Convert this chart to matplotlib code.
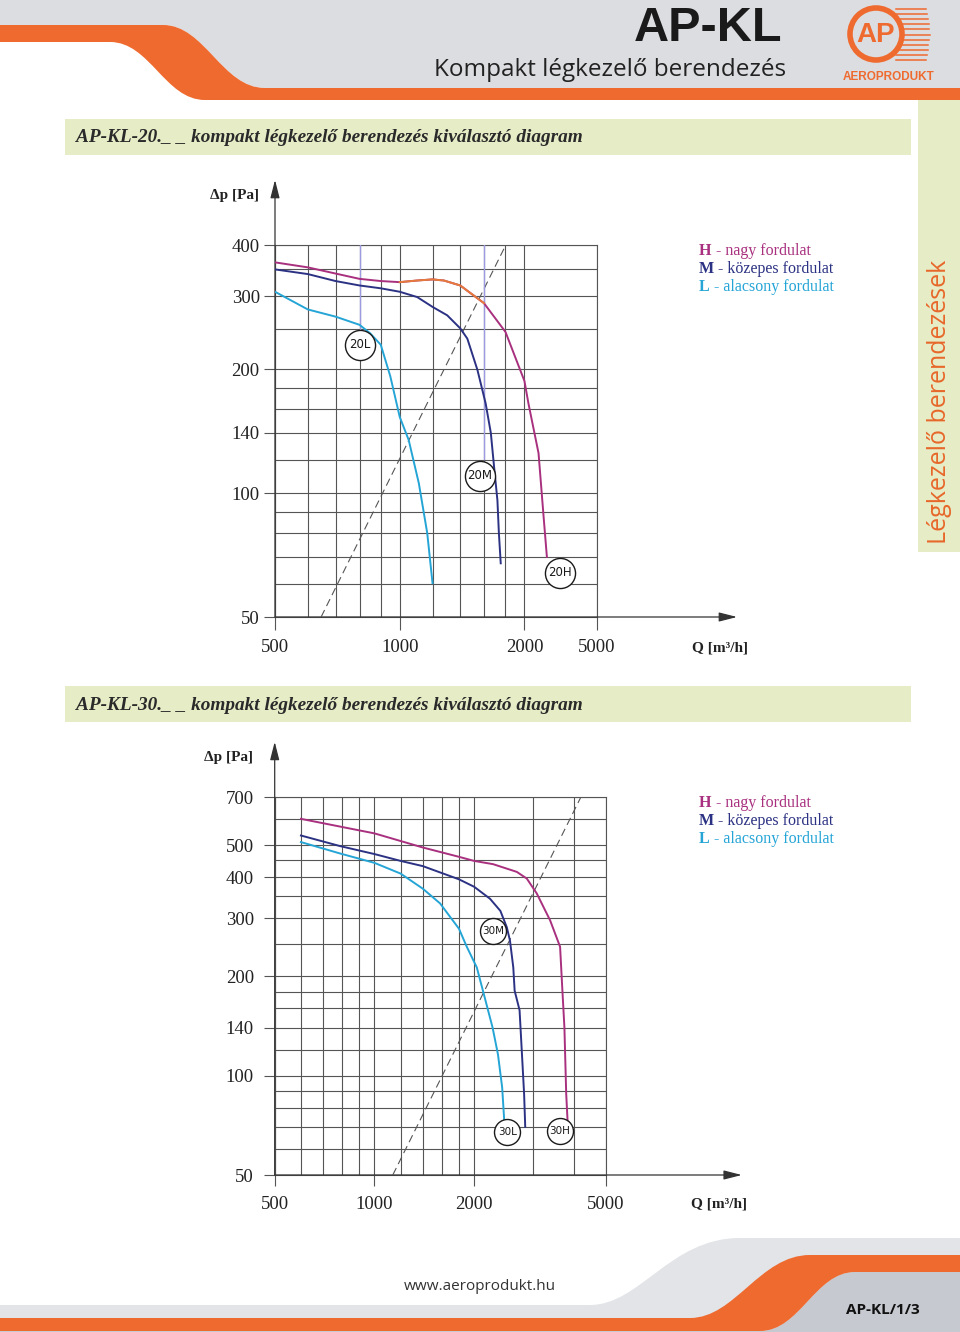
import numpy as np
import matplotlib
matplotlib.use('Agg')
import matplotlib.pyplot as plt
from matplotlib.path import Path
from matplotlib.patches import PathPatch, Circle, Rectangle

ORANGE = '#ef6a2f'
GRID = '#555555'
C_H = '#a8307e'
C_M = '#2c3283'
C_L = '#25a5d6'
C_HM = '#e67a3a'

# ---------------- data: AP-KL-20 ----------------
q20_h = [500, 600, 700, 800, 900, 1000, 1102, 1200, 1278, 1400, 1597, 1800, 2000, 2103, 2389, 2545, 2655]
p20_h = [363, 353, 341, 331, 327, 325, 328, 330, 328, 319, 289, 246, 187, 165, 125, 88, 70]
h20_orange = (5, 11)   # index range of the orange part of the H curve
q20_m = [500, 600, 700, 800, 900, 1000, 1102, 1200, 1302, 1400, 1456, 1540, 1612, 1659, 1689, 1721, 1735, 1753]
p20_m = [349, 340, 327, 319, 314, 308, 299, 283, 270, 251, 237, 199, 165, 140, 116, 96, 80, 67.5]
q20_l = [500, 600, 700, 800, 849, 900, 949, 1000, 1051, 1112, 1165, 1200]
p20_l = [308, 279, 268, 256, 244, 229, 192, 153, 134.5, 105.6, 80, 60.4]
dash20_q = [646, 1803]
dash20_p = [50, 400]
guide20_q = [800, 1600]
guide20_p = [249, 121]
badge20_lab = ['20L', '20M', '20H']
badge20_q = [803, 1559, 3141]
badge20_p = [229, 110, 64]
x20_major = [500, 1000, 2000, 5000]
x20_minor = [600, 700, 800, 900, 1200, 1400, 1600, 1800]
y20_major = [50, 100, 140, 200, 300, 400]
y20_minor = [60, 70, 80, 90, 120, 160, 180, 250, 350]

# ---------------- data: AP-KL-30 ----------------
q30_h = [600, 1000, 1400, 1800, 2000, 2281, 2690, 2884, 3090, 3390, 3634, 3693, 3745, 3792, 3828]
p30_h = [601, 543, 492, 461, 448, 438, 415, 396, 357, 296, 246, 181, 140, 88, 73]
q30_m = [600, 787, 1000, 1200, 1400, 1800, 2000, 2233, 2400, 2509, 2565, 2625, 2650, 2742, 2795, 2830, 2852]
p30_m = [535, 497, 470, 448, 432, 394, 374, 344, 316, 282, 257, 213, 181, 158, 111, 88, 70]
q30_l = [600, 787, 1000, 1200, 1400, 1578, 1800, 1900, 2037, 2132, 2273, 2360, 2430, 2465]
p30_l = [511, 472, 442, 410, 369, 333, 279, 246, 213, 179, 140, 116, 92, 73]
dash30_q = [1136, 4200]
dash30_p = [50, 700]
badge30_lab = ['30M', '30L', '30H']
badge30_q = [2281, 2515, 3634]
badge30_p = [274, 67.6, 68]
x30_major = [500, 1000, 2000, 5000]
x30_minor = [600, 700, 800, 900, 1200, 1400, 1600, 1800, 3000, 4000]
y30_major = [50, 100, 140, 200, 300, 400, 500, 700]
y30_minor = [60, 70, 80, 90, 120, 160, 180, 250, 350, 450, 600]

legend_lines = [('H', ' - nagy fordulat', C_H), ('M', ' - közepes fordulat', C_M), ('L', ' - alacsony fordulat', C_L)]

# piecewise Q scale of the upper diagram (2000..5000 compressed)
K = 0.44
def fwd20(q):
    l = np.log2(np.maximum(np.asarray(q, float), 1e-6) / 500.0)
    return np.where(l <= 2, l, 2 + (l - 2) * K)
def inv20(p):
    p = np.asarray(p, float)
    return 500.0 * 2 ** np.where(p <= 2, p, 2 + (p - 2) / K)

W, H = 960, 1332
fig = plt.figure(figsize=(9.6, 13.32), dpi=100)
page = fig.add_axes([0, 0, 1, 1])
page.set_xlim(0, W)
page.set_ylim(H, 0)
page.axis('off')

def shape(verts, codes, color, z=1):
    page.add_patch(PathPatch(Path(verts, codes), facecolor=color, edgecolor='none', zorder=z))

M_, L_, C4, CL = Path.MOVETO, Path.LINETO, Path.CURVE4, Path.CLOSEPOLY
# header
shape([(0, 0), (960, 0), (960, 88), (265, 88), (222, 88), (205, 25), (163, 25), (0, 25), (0, 0)],
      [M_, L_, L_, L_, C4, C4, C4, L_, CL], '#dcdde0')
shape([(0, 25), (163, 25), (205, 25), (222, 88), (265, 88), (960, 88), (960, 100), (205, 100),
       (165, 100), (150, 42), (110, 42), (0, 42), (0, 25)],
      [M_, L_, C4, C4, C4, L_, L_, L_, C4, C4, C4, L_, CL], ORANGE, 2)
page.text(708, 41, 'AP-KL', fontsize=35, fontweight='bold', family='Liberation Sans',
          ha='center', va='baseline', color='#1a1a1a', zorder=3)
page.text(786, 70, 'Kompakt légkezelő berendezés', fontsize=17.5, family='Open Sans',
          ha='right', va='center', color='#222222', zorder=3)
# logo
for yy in np.linspace(9, 60, 11):
    page.plot([896, 930 - abs(yy - 34) * 0.15], [yy, yy], color=ORANGE, lw=1.1, zorder=3)
page.add_patch(Circle((876, 34), 26, facecolor='#dcdde0', edgecolor=ORANGE, lw=4, zorder=4))
page.text(876, 35, 'AP', fontsize=20, fontweight='bold', color=ORANGE, family='Liberation Sans',
          ha='center', va='center', zorder=5)
page.text(889, 77, 'AEROPRODUKT', fontsize=8.5, fontweight='bold', color=ORANGE,
          family='Liberation Sans', ha='center', va='center', zorder=5)

# side band
page.add_patch(Rectangle((918, 100), 42, 452, facecolor='#e6ecc6', edgecolor='none', zorder=1))
page.text(939, 402, 'Légkezelő berendezések', rotation=90, fontsize=18, family='Open Sans',
          color='#e8672a', ha='center', va='center', zorder=3)

# section headers
for ytop, title in [(119, 'AP-KL-20._ _ kompakt légkezelő berendezés kiválasztó diagram'),
                    (686, 'AP-KL-30._ _ kompakt légkezelő berendezés kiválasztó diagram')]:
    page.add_patch(Rectangle((65, ytop), 846, 36, facecolor='#e6ecc6', edgecolor='none', zorder=1))
    page.text(76, ytop + 19, title, fontsize=13.9, fontweight='bold', fontstyle='italic',
              family='Liberation Serif', color='#2a2a2a', ha='left', va='center', zorder=3)

# footer
shape([(0, 1305), (590, 1305), (640, 1305), (670, 1238), (740, 1238), (960, 1238), (960, 1332),
       (0, 1332), (0, 1305)], [M_, L_, C4, C4, C4, L_, L_, L_, CL], '#e2e4e8')
shape([(960, 1272), (960, 1332), (0, 1332), (0, 1331), (760, 1331), (800, 1331), (815, 1272),
       (855, 1272), (960, 1272)], [M_, L_, L_, L_, L_, C4, C4, C4, CL], '#c6c9d0', 2)
shape([(0, 1318), (690, 1318), (735, 1318), (760, 1255), (810, 1255), (960, 1255), (960, 1272),
       (855, 1272), (815, 1272), (800, 1331), (760, 1331), (0, 1331), (0, 1318)],
      [M_, L_, C4, C4, C4, L_, L_, L_, C4, C4, C4, L_, CL], ORANGE, 3)
page.text(480, 1287, 'www.aeroprodukt.hu', fontsize=11, family='Open Sans', color='#333333',
          ha='center', va='center', zorder=4)
page.text(883, 1310, 'AP-KL/1/3', fontsize=11, family='Open Sans', fontweight='bold',
          color='#111111', ha='center', va='center', zorder=4)

# legends
for y0 in [251, 803]:
    for i, (k, txt, col) in enumerate(legend_lines):
        t = page.text(699, y0 + i * 18, k, fontsize=11.5, fontweight='bold', family='Liberation Serif',
                      color=col, ha='left', va='center', zorder=4)
        page.annotate(txt, xycoords=t, xy=(1, 0.5), va='center', ha='left', fontsize=11.5,
                      family='Liberation Serif', color=col, zorder=4)

def chart(rect, xscale, q_range, p_range, xmaj, xmin, ymaj, ymin, tick_len, tick_pad, arrow_y, arrow_x):
    ax = fig.add_axes(rect)
    ax.set_facecolor('none')
    if xscale == 'log':
        ax.set_xscale('log')
    else:
        ax.set_xscale('function', functions=xscale)
    ax.set_yscale('log')
    ax.set_xlim(*q_range)
    ax.set_ylim(*p_range)
    ax.set_xticks(xmaj)
    ax.set_xticklabels([str(v) for v in xmaj])
    ax.set_xticks(xmin, minor=True)
    ax.set_yticks(ymaj)
    ax.set_yticklabels([str(v) for v in ymaj])
    ax.set_yticks(ymin, minor=True)
    ax.set_xticklabels([], minor=True)
    ax.set_yticklabels([], minor=True)
    ax.grid(True, which='both', color=GRID, lw=0.8)
    ax.tick_params(which='major', length=tick_len[0], width=0.8, color=GRID, labelsize=13.5)
    ax.tick_params(axis='x', which='major', length=tick_len[1], pad=tick_pad[1])
    ax.tick_params(axis='y', which='major', pad=tick_pad[0])
    ax.tick_params(which='minor', length=0)
    for lab in ax.get_xticklabels() + ax.get_yticklabels():
        lab.set_family('Liberation Serif')
        lab.set_color('#222222')
    for s in ax.spines.values():
        s.set_color(GRID)
        s.set_linewidth(0.8)
    ax.annotate('', xy=(0, arrow_y), xytext=(0, 0), xycoords='axes fraction', annotation_clip=False,
                arrowprops=dict(arrowstyle='-|>,head_length=1.1,head_width=0.28', color='#333333',
                                lw=0.9, shrinkA=0, shrinkB=0))
    ax.annotate('', xy=(arrow_x, 0), xytext=(0, 0), xycoords='axes fraction', annotation_clip=False,
                arrowprops=dict(arrowstyle='-|>,head_length=1.1,head_width=0.28', color='#333333',
                                lw=0.9, shrinkA=0, shrinkB=0))
    ax.set_axisbelow(True)
    return ax

def badges(ax, labels, qs, ps, size, fs):
    ax.scatter(qs, ps, s=size, facecolor='white', edgecolor='#1a1a1a', lw=1.0, zorder=6, clip_on=False)
    for lab, q, p in zip(labels, qs, ps):
        ax.text(q, p, lab, ha='center', va='center', fontsize=fs, family='DejaVu Sans',
                color='#1a1a1a', zorder=7)

# ---------- upper diagram ----------
ax1 = chart([275 / W, 1 - 617 / H, 322 / W, 372 / H], (fwd20, inv20), (500, 5000), (50, 400),
            x20_major, x20_minor, y20_major, y20_minor, (8, 9), (3, 7), 1.175, 1.435)
ax1.plot(dash20_q, dash20_p, color='#555555', lw=0.8, dashes=(7, 4), zorder=3)
for q, p in zip(guide20_q, guide20_p):
    ax1.plot([q, q], [400, p], color='#9c9ae0', lw=1.0, zorder=3)
ax1.plot(q20_l, p20_l, color=C_L, lw=1.4, zorder=4)
ax1.plot(q20_m, p20_m, color=C_M, lw=1.4, zorder=4)
ax1.plot(q20_h, p20_h, color=C_H, lw=1.4, zorder=4)
i0, i1 = h20_orange
ax1.plot(q20_h[i0:i1], p20_h[i0:i1], color=C_HM, lw=1.4, zorder=4)
badges(ax1, badge20_lab, badge20_q, badge20_p, 470, 8.5)
page.text(235, 196, 'Δp [Pa]', fontsize=11, fontweight='bold', family='Liberation Serif',
          color='#222222', ha='center', va='center')
page.text(720, 648, 'Q [m³/h]', fontsize=11, fontweight='bold', family='Liberation Serif',
          color='#222222', ha='center', va='center')

# ---------- lower diagram ----------
ax2 = chart([274.7 / W, 1 - 1175 / H, 331.3 / W, 378 / H], 'log', (500, 5000), (50, 700),
            x30_major, x30_minor, y30_major, y30_minor, (8, 8), (7, 7), 1.146, 1.41)
ax2.plot(dash30_q, dash30_p, color='#555555', lw=0.8, dashes=(7, 4), zorder=3)
ax2.plot(q30_l, p30_l, color=C_L, lw=1.4, zorder=4)
ax2.plot(q30_m, p30_m, color=C_M, lw=1.4, zorder=4)
ax2.plot(q30_h, p30_h, color=C_H, lw=1.4, zorder=4)
badges(ax2, badge30_lab, badge30_q, badge30_p, 350, 7.5)
page.text(228, 757, 'Δp [Pa]', fontsize=11, fontweight='bold', family='Liberation Serif',
          color='#222222', ha='center', va='center')
page.text(719, 1204, 'Q [m³/h]', fontsize=11, fontweight='bold', family='Liberation Serif',
          color='#222222', ha='center', va='center')

fig.savefig('out.png', dpi=100)
